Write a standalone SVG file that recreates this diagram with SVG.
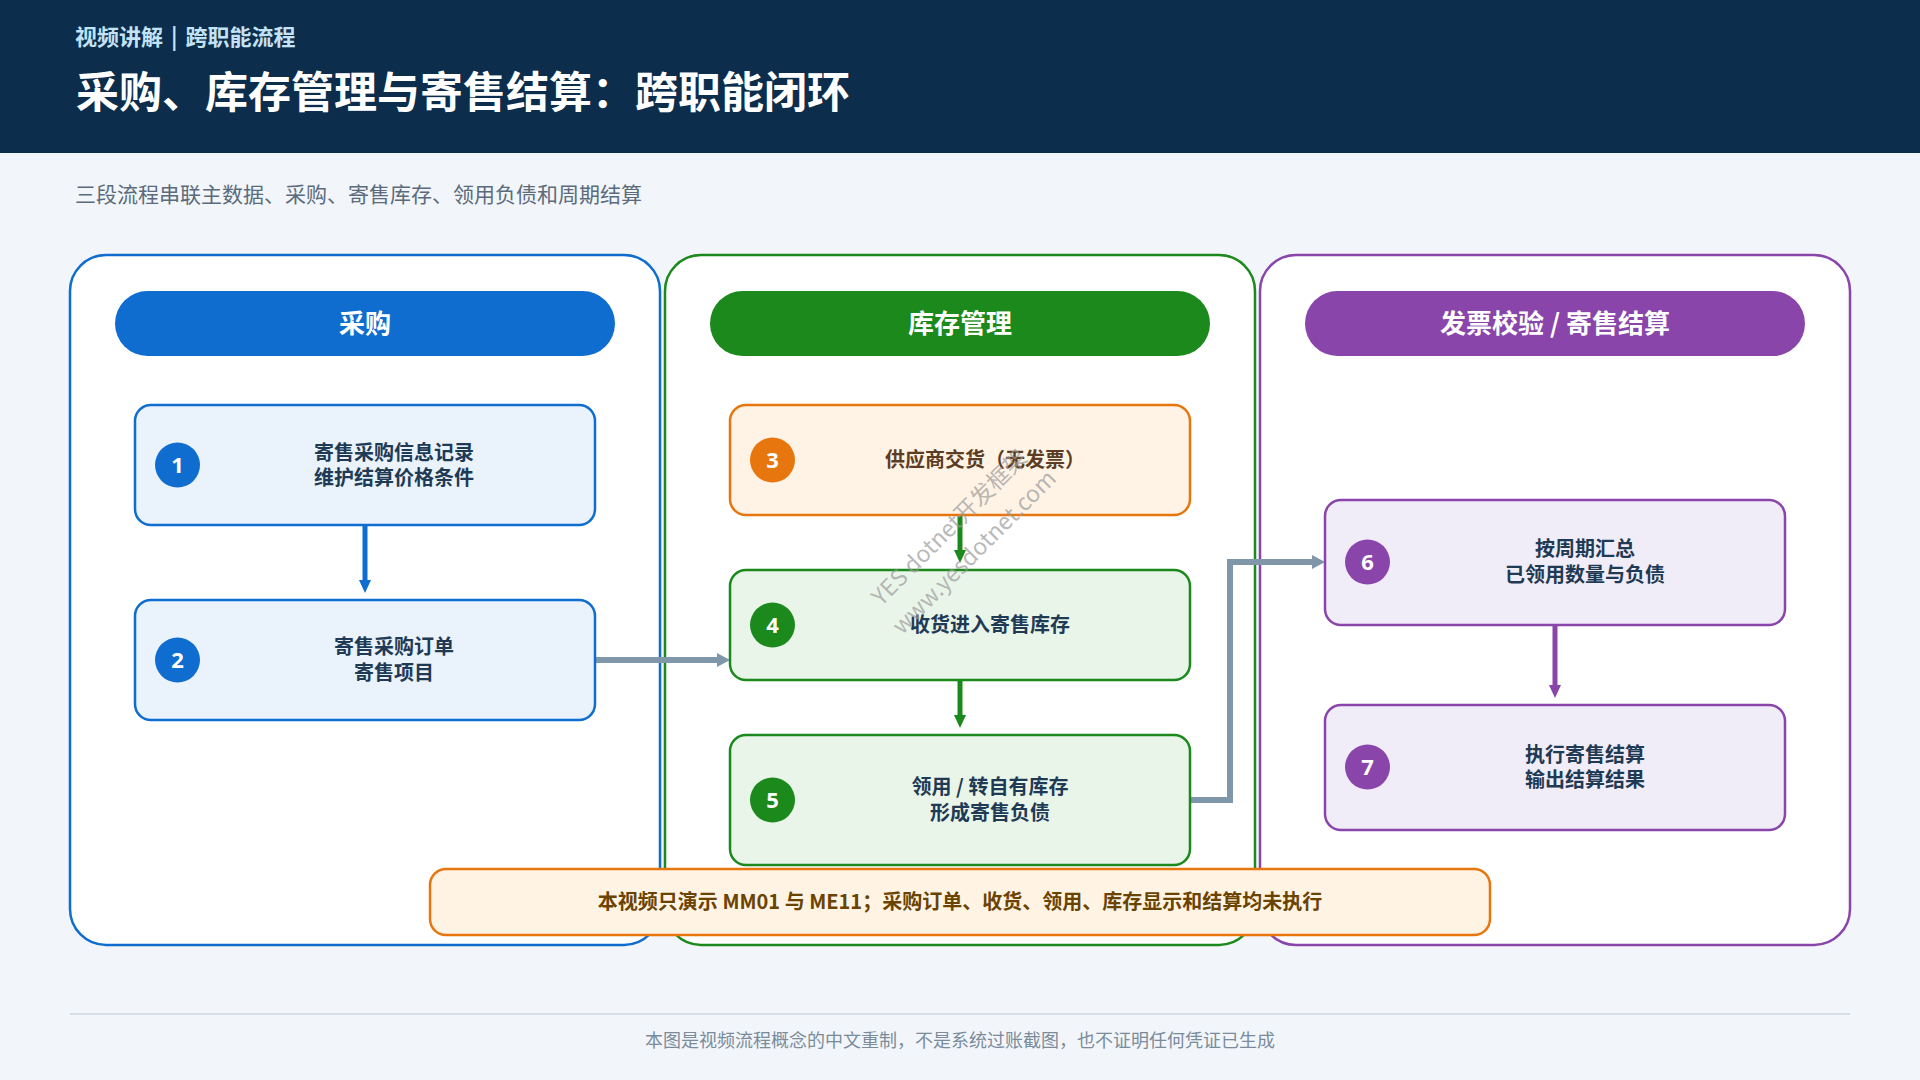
<svg xmlns="http://www.w3.org/2000/svg" width="1920" height="1080" viewBox="0 0 1920 1080">
<style>
  text { font-family: "Noto Sans CJK SC", "Noto Sans", "Liberation Sans", sans-serif; }
  .lane { fill: #ffffff; stroke-width: 2.5; }
  .pill-text { fill: #ffffff; font-size: 26px; font-weight: 700; text-anchor: middle; dominant-baseline: central; }
  .node { stroke-width: 2.5; }
  .num { fill: #ffffff; font-size: 22px; font-weight: 700; text-anchor: middle; dominant-baseline: central; font-family: "Noto Sans", "Liberation Sans", sans-serif; }
  .ntext { fill: #1f3a54; font-size: 20px; font-weight: 700; text-anchor: middle; dominant-baseline: central; }
  .blue { stroke: #0f6dd0; }
  .green { stroke: #1b891b; }
  .purple { stroke: #8a45ab; }
  .orange { stroke: #e8760f; }
  .conn { fill: none; stroke-width: 5; }
  .grey { fill: none; stroke: #7f97a8; stroke-width: 6; stroke-linecap: round; stroke-linejoin: miter; }
</style>
<defs>
  <marker id="ah-blue" markerUnits="userSpaceOnUse" markerWidth="14" markerHeight="14" viewBox="0 0 14 14" refX="5" refY="7" orient="auto"><path d="M0,1 L13,7 L0,13 z" fill="#0f6dd0"/></marker>
  <marker id="ah-green" markerUnits="userSpaceOnUse" markerWidth="14" markerHeight="14" viewBox="0 0 14 14" refX="5" refY="7" orient="auto"><path d="M0,1 L13,7 L0,13 z" fill="#1b891b"/></marker>
  <marker id="ah-purple" markerUnits="userSpaceOnUse" markerWidth="14" markerHeight="14" viewBox="0 0 14 14" refX="5" refY="7" orient="auto"><path d="M0,1 L13,7 L0,13 z" fill="#8a45ab"/></marker>
  <marker id="ah-grey" markerUnits="userSpaceOnUse" markerWidth="14" markerHeight="14" viewBox="0 0 14 14" refX="5" refY="7" orient="auto"><path d="M0,0 L13,7 L0,14 z" fill="#7f97a8"/></marker>
</defs>

<!-- background -->
<rect x="0" y="0" width="1920" height="1080" fill="#f2f6fa"/>
<rect x="0" y="0" width="1920" height="153" fill="#0c2d4b"/>
<text x="75" y="35" font-size="22" font-weight="700" fill="#c4e2f6" dominant-baseline="central">视频讲解<tspan dx="8">|</tspan><tspan dx="8">跨职能流程</tspan></text>
<text x="76" y="89" font-size="43" font-weight="700" fill="#ffffff" dominant-baseline="central">采购、库存管理与寄售结算：跨职能闭环</text>
<text x="75" y="193" font-size="21" fill="#5b6b7c" dominant-baseline="central">三段流程串联主数据、采购、寄售库存、领用负债和周期结算</text>

<!-- lanes -->
<g id="lane-purchase">
  <rect class="lane blue" x="70" y="255" width="590" height="690" rx="36"/>
  <rect x="115" y="291" width="500" height="65" rx="32.5" fill="#0f6dd0"/>
  <text class="pill-text" x="365" y="321">采购</text>
</g>
<g id="lane-inventory">
  <rect class="lane green" x="665" y="255" width="590" height="690" rx="36"/>
  <rect x="710" y="291" width="500" height="65" rx="32.5" fill="#1b891b"/>
  <text class="pill-text" x="960" y="321">库存管理</text>
</g>
<g id="lane-settlement">
  <rect class="lane purple" x="1260" y="255" width="590" height="690" rx="36"/>
  <rect x="1305" y="291" width="500" height="65" rx="32.5" fill="#8a45ab"/>
  <text class="pill-text" x="1555" y="321">发票校验 / 寄售结算</text>
</g>

<!-- connectors -->
<g id="connectors">
  <line class="conn blue" x1="365" y1="526" x2="365" y2="585" marker-end="url(#ah-blue)"/>
  <line class="conn green" x1="960" y1="516" x2="960" y2="555" marker-end="url(#ah-green)"/>
  <line class="conn green" x1="960" y1="681" x2="960" y2="720" marker-end="url(#ah-green)"/>
  <line class="conn purple" x1="1555" y1="626" x2="1555" y2="690" marker-end="url(#ah-purple)"/>
  <path class="grey" d="M595,660 H722" marker-end="url(#ah-grey)"/>
  <path class="grey" d="M1190,800 H1230 V562 H1317" marker-end="url(#ah-grey)"/>
</g>

<!-- nodes -->
<g id="node1">
  <rect class="node blue" x="135" y="405" width="460" height="120" rx="16" fill="#eaf2fc"/>
  <circle cx="177.5" cy="465" r="22.5" fill="#0f6dd0"/>
  <text class="num" x="177.5" y="464">1</text>
  <text class="ntext" x="394" y="451">寄售采购信息记录</text>
  <text class="ntext" x="394" y="476">维护结算价格条件</text>
</g>
<g id="node2">
  <rect class="node blue" x="135" y="600" width="460" height="120" rx="16" fill="#eaf2fc"/>
  <circle cx="177.5" cy="660" r="22.5" fill="#0f6dd0"/>
  <text class="num" x="177.5" y="659">2</text>
  <text class="ntext" x="394" y="645">寄售采购订单</text>
  <text class="ntext" x="394" y="671">寄售项目</text>
</g>
<g id="node3">
  <rect class="node orange" x="730" y="405" width="460" height="110" rx="16" fill="#fff3e6"/>
  <circle cx="772.5" cy="460" r="22.5" fill="#e8760f"/>
  <text class="num" x="772.5" y="459">3</text>
  <text class="ntext" x="985" y="458" style="fill:#5c3d24">供应商交货（无发票）</text>
</g>
<g id="node4">
  <rect class="node green" x="730" y="570" width="460" height="110" rx="16" fill="#eaf5ea"/>
  <circle cx="772.5" cy="625" r="22.5" fill="#1b891b"/>
  <text class="num" x="772.5" y="624">4</text>
  <text class="ntext" x="990" y="623">收货进入寄售库存</text>
</g>
<g id="node5">
  <rect class="node green" x="730" y="735" width="460" height="130" rx="16" fill="#eaf5ea"/>
  <circle cx="772.5" cy="800" r="22.5" fill="#1b891b"/>
  <text class="num" x="772.5" y="799">5</text>
  <text class="ntext" x="990" y="785">领用 / 转自有库存</text>
  <text class="ntext" x="990" y="811">形成寄售负债</text>
</g>
<g id="node6">
  <rect class="node purple" x="1325" y="500" width="460" height="125" rx="16" fill="#f1edf8"/>
  <circle cx="1367.5" cy="562" r="22.5" fill="#8a45ab"/>
  <text class="num" x="1367.5" y="561">6</text>
  <text class="ntext" x="1585" y="547">按周期汇总</text>
  <text class="ntext" x="1585" y="573">已领用数量与负债</text>
</g>
<g id="node7">
  <rect class="node purple" x="1325" y="705" width="460" height="125" rx="16" fill="#f1edf8"/>
  <circle cx="1367.5" cy="767" r="22.5" fill="#8a45ab"/>
  <text class="num" x="1367.5" y="766">7</text>
  <text class="ntext" x="1585" y="753">执行寄售结算</text>
  <text class="ntext" x="1585" y="778">输出结算结果</text>
</g>

<!-- note banner -->
<g id="note">
  <rect x="430" y="869" width="1060" height="66" rx="16" fill="#fff3e4" stroke="#e8760f" stroke-width="2.5"/>
  <text x="960" y="900" font-size="20" font-weight="700" fill="#6b4300" text-anchor="middle" dominant-baseline="central">本视频只演示 MM01 与 ME11；采购订单、收货、领用、库存显示和结算均未执行</text>
</g>

<!-- watermark -->
<g transform="translate(960,538) rotate(-45)" fill="#9a9a9a" fill-opacity="0.7" font-size="23" text-anchor="middle">
  <text x="0" y="-17" dominant-baseline="central">YES dotnet开发框架</text>
  <text x="0" y="18" dominant-baseline="central">www.yesdotnet.com</text>
</g>

<!-- footer -->
<line x1="70" y1="1014" x2="1850" y2="1014" stroke="#d6dee7" stroke-width="2"/>
<text x="960" y="1039" font-size="18" fill="#7a8b9c" text-anchor="middle" dominant-baseline="central">本图是视频流程概念的中文重制，不是系统过账截图，也不证明任何凭证已生成</text>
</svg>
